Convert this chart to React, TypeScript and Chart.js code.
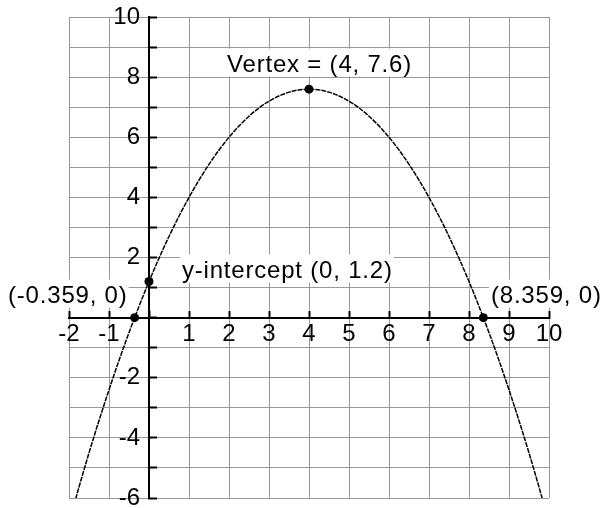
import React, { useEffect, useRef } from "react";
import { Chart, registerables } from "chart.js";

Chart.register(...registerables);

// Curve samples (parabola through the marked points)
const curveX = [-2, -1.5, -1, -0.5, 0, 0.5, 1, 1.5, 2, 2.5, 3, 3.5, 4, 4.5, 5, 5.5, 6, 6.5, 7, 7.5, 8, 8.5, 9, 9.5, 10];
const curveY = [-6.8, -4.5, -2.4, -0.5, 1.2, 2.7, 4.0, 5.1, 6.0, 6.7, 7.2, 7.5, 7.6, 7.5, 7.2, 6.7, 6.0, 5.1, 4.0, 2.7, 1.2, -0.5, -2.4, -4.5, -6.8];

// Marked points and their labels
const markX = [-0.359, 0, 4, 8.359];
const markY = [0, 1.2, 7.6, 0];
const markLabels = ["(-0.359, 0)", "y-intercept (0, 1.2)", "Vertex = (4, 7.6)", "(8.359, 0)"];

// Axis ranges and tick labels
const xRange = [-2, 10];
const yRange = [-6, 10];
const xTickLabels = [-2, -1, 1, 2, 3, 4, 5, 6, 7, 8, 9, 10];
const yTickLabels = [-6, -4, -2, 2, 4, 6, 8, 10];

const FONT = '"Liberation Sans", Arial, sans-serif';

export default function App() {
  const ref = useRef<HTMLCanvasElement | null>(null);

  useEffect(() => {
    if (!ref.current) return;
    // pixel offsets of each label's text (left, baseline) from its point
    const labelOffsets = [
      { dx: -126.6, dy: -15 },
      { dx: 33, dy: -4 },
      { dx: -82, dy: -17.5 },
      { dx: 7.6, dy: -15 },
    ];

    const labelPlugin = {
      id: "pointLabels",
      afterDatasetsDraw(chart: any) {
        const ctx = chart.ctx as CanvasRenderingContext2D;
        const xs = chart.scales.x;
        const ys = chart.scales.y;
        ctx.save();
        ctx.font = `24px ${FONT}`;
        (ctx as any).letterSpacing = "0.8px";
        ctx.textAlign = "left";
        ctx.textBaseline = "alphabetic";
        markLabels.forEach((t, i) => {
          const px = xs.getPixelForValue(markX[i]) + labelOffsets[i].dx;
          const py = ys.getPixelForValue(markY[i]) + labelOffsets[i].dy;
          const w = ctx.measureText(t).width;
          ctx.fillStyle = "#ffffff";
          ctx.fillRect(px - 2, py - 23, w + 3, 28);
          ctx.fillStyle = "#000000";
          ctx.fillText(t, px, py);
        });
        ctx.restore();
      },
    };

    const zeroPad = (s: any) => {
      s.paddingLeft = 0;
      s.paddingRight = 0;
      s.paddingTop = 0;
      s.paddingBottom = 0;
    };

    const chart = new Chart(ref.current, {
      type: "scatter",
      data: {
        datasets: [
          {
            type: "line",
            data: curveX.map((x, i) => ({ x, y: curveY[i] })),
            borderColor: "#000000",
            borderWidth: 1.5,
            borderDash: [5, 1],
            pointRadius: 0,
            fill: false,
            cubicInterpolationMode: "monotone",
            clip: 0,
          } as any,
          {
            type: "scatter",
            data: markX.map((x, i) => ({ x, y: markY[i] })),
            pointRadius: 4.5,
            pointBackgroundColor: "#000000",
            pointBorderColor: "#000000",
            pointBorderWidth: 0,
            clip: false,
          } as any,
        ],
      },
      options: {
        responsive: false,
        animation: false,
        layout: { padding: { left: 69, right: 53, top: 17, bottom: 10 } },
        plugins: {
          legend: { display: false },
          tooltip: { enabled: false },
        },
        scales: {
          x: {
            type: "linear",
            position: { y: 0 } as any,
            min: xRange[0],
            max: xRange[1],
            afterFit: zeroPad,
            ticks: {
              stepSize: 1,
              autoSkip: false,
              maxRotation: 0,
              minRotation: 0,
              padding: 10,
              color: "#000000",
              font: { family: FONT, size: 24 },
              callback: (v: any) => (xTickLabels.includes(Number(v)) ? String(v) : ""),
            },
            grid: {
              color: "#999999",
              lineWidth: 1,
              tickColor: "#000000",
              tickWidth: 2,
              tickLength: -8,
            },
            border: { color: "#000000", width: 2 },
          },
          y: {
            type: "linear",
            position: { x: 0 } as any,
            min: yRange[0],
            max: yRange[1],
            afterFit: zeroPad,
            ticks: {
              stepSize: 1,
              autoSkip: false,
              color: "#000000",
              font: { family: FONT, size: 24 },
              callback: () => "",
            },
            grid: {
              color: "#999999",
              lineWidth: 1,
              tickColor: "#000000",
              tickWidth: 2,
              tickLength: -9,
            },
            border: { color: "#000000", width: 2 },
          },
          yl: {
            type: "linear",
            axis: "y",
            position: { x: -0.225 } as any,
            min: yRange[0],
            max: yRange[1],
            afterFit: zeroPad,
            ticks: {
              stepSize: 1,
              autoSkip: false,
              padding: 0,
              color: "#000000",
              font: { family: FONT, size: 24 },
              callback: (v: any) => (yTickLabels.includes(Number(v)) ? String(v) : ""),
            },
            grid: { display: false },
            border: { display: false },
          },
        },
      } as any,
      plugins: [labelPlugin],
    });
    return () => chart.destroy();
  }, []);

  return (
    <div style={{ position: "absolute", left: 0, top: 0, width: 602, height: 508, background: "#fff" }}>
      <canvas ref={ref} width={602} height={508} style={{ display: "block" }} />
    </div>
  );
}
